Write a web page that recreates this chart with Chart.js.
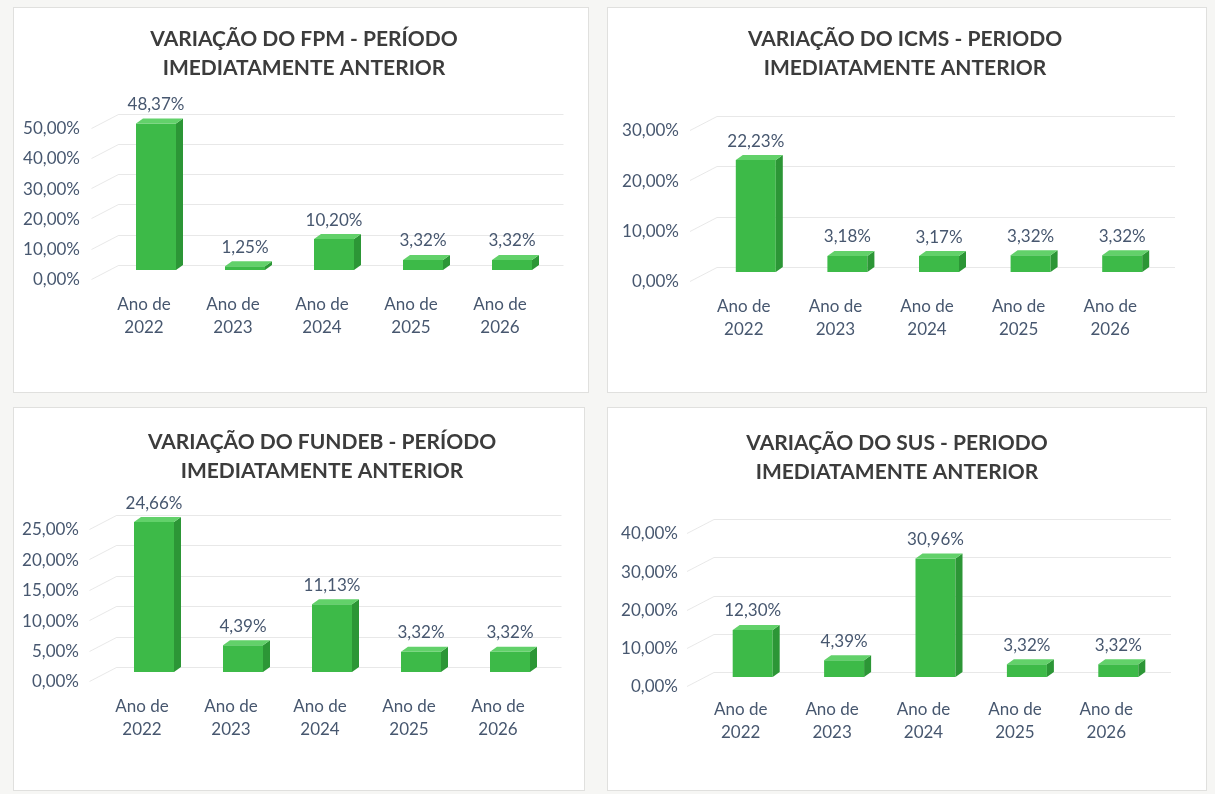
<!DOCTYPE html>
<html lang="pt-BR">
<head>
<meta charset="utf-8">
<title>Variação das receitas</title>
<script src="https://cdn.jsdelivr.net/npm/chart.js@4.4.1/dist/chart.umd.min.js"></script>
<style>
  html, body { margin: 0; padding: 0; width: 1215px; height: 794px; overflow: hidden; background: #f6f6f4; }
  .painel { position: absolute; background: #fff; border: 1px solid #e0e0de; box-sizing: border-box; }
  canvas { position: absolute; }
</style>
</head>
<body>
<div class="painel" style="left:13px;top:7px;width:576px;height:386px"></div>
<div class="painel" style="left:607px;top:7px;width:600px;height:386px"></div>
<div class="painel" style="left:13px;top:407px;width:572px;height:384px"></div>
<div class="painel" style="left:607px;top:407px;width:600px;height:384px"></div>
<canvas id="graficoFpm"></canvas>
<canvas id="graficoIcms"></canvas>
<canvas id="graficoFundeb"></canvas>
<canvas id="graficoSus"></canvas>
<script>
// Dados
const anos = [["Ano de", "2022"], ["Ano de", "2023"], ["Ano de", "2024"], ["Ano de", "2025"], ["Ano de", "2026"]];

const fpm = [48.37, 1.25, 10.20, 3.32, 3.32];
const icms = [22.23, 3.18, 3.17, 3.32, 3.32];
const fundeb = [24.66, 4.39, 11.13, 3.32, 3.32];
const sus = [12.30, 4.39, 30.96, 3.32, 3.32];

const tituloFpm = ["VARIAÇÃO DO FPM - PERÍODO", "IMEDIATAMENTE ANTERIOR"];
const tituloIcms = ["VARIAÇÃO DO ICMS - PERIODO", "IMEDIATAMENTE ANTERIOR"];
const tituloFundeb = ["VARIAÇÃO DO FUNDEB - PERÍODO", "IMEDIATAMENTE ANTERIOR"];
const tituloSus = ["VARIAÇÃO DO SUS - PERIODO", "IMEDIATAMENTE ANTERIOR"];

// eixo Y (máximo e passo) de cada gráfico: FPM, ICMS, FUNDEB, SUS
const eixoMax = [50, 30, 25, 40];
const eixoPasso = [10, 10, 5, 10];

// Estilo
const FONTE = "Lato, 'Open Sans', sans-serif";
const COR_TEXTO = "#47576f";
const COR_TITULO = "#3c3c3c";
const VERDE = "#3dba48";
const VERDE_LADO = "#2c9636";
const VERDE_TOPO = "#62d16a";
const DX = 7, DY = 5; // profundidade do efeito 3D

// Posições na página (px): painel, centro do título, área do gráfico
const posicoes = [
  { x: 13,  y: 7,   w: 576, h: 385, tituloX: 304, tituloY: 39,  esquerda: 111.5, direita: 556.5, topo: 118.5, base: 270, rotuloY: 80,  padX: 14.4 },
  { x: 607, y: 7,   w: 600, h: 385, tituloX: 905, tituloY: 39,  esquerda: 710,   direita: 1168,  topo: 121,   base: 272, rotuloY: 679, padX: 14.4 },
  { x: 13,  y: 408, w: 572, h: 382, tituloX: 322, tituloY: 442, esquerda: 109.5, direita: 554.5, topo: 520,   base: 672, rotuloY: 79,  padX: 14.4 },
  { x: 607, y: 408, w: 600, h: 382, tituloX: 897, tituloY: 443, esquerda: 707,   direita: 1164,  topo: 524,   base: 677, rotuloY: 678, padX: 12.4 }
];

function formatarPct(v) {
  return Number(v).toFixed(2).replace(".", ",") + "%";
}

// Título em duas linhas, centrado onde está no original
const tituloPlugin = {
  id: "tituloPlugin",
  afterDraw(chart, args, opts) {
    const { ctx } = chart;
    ctx.save();
    ctx.fillStyle = COR_TITULO;
    ctx.font = "bold 21px " + FONTE;
    ctx.textAlign = "center";
    ctx.textBaseline = "middle";
    opts.linhas.forEach((linha, i) => ctx.fillText(linha, opts.x, opts.y + i * 29));
    ctx.restore();
  }
};

// Barras em "3D" (lado e topo), grade na parede de fundo e rótulos de valor
const barras3d = {
  id: "barras3d",
  beforeDatasetsDraw(chart) {
    const { ctx, chartArea, scales } = chart;
    const y = scales.y;
    ctx.save();
    ctx.strokeStyle = "rgba(110,110,110,0.16)";
    ctx.lineWidth = 1;
    y.ticks.forEach(t => {
      const py = Math.round(y.getPixelForValue(t.value) - DY) + 0.5;
      ctx.beginPath();
      ctx.moveTo(chartArea.left - 20, py + DY + 9);
      ctx.lineTo(chartArea.left + DX, py);
      ctx.lineTo(chartArea.right + DX, py);
      ctx.stroke();
    });
    ctx.restore();
  },
  afterDatasetsDraw(chart) {
    const { ctx } = chart;
    const meta = chart.getDatasetMeta(0);
    const dados = chart.data.datasets[0].data;
    ctx.save();
    meta.data.forEach((barra, i) => {
      const { x, y, base, width } = barra.getProps(["x", "y", "base", "width"], true);
      const esq = x - width / 2, dir = x + width / 2;
      // lado
      ctx.fillStyle = VERDE_LADO;
      ctx.beginPath();
      ctx.moveTo(dir, y);
      ctx.lineTo(dir + DX, y - DY);
      ctx.lineTo(dir + DX, base - DY);
      ctx.lineTo(dir, base);
      ctx.closePath();
      ctx.fill();
      // topo
      ctx.fillStyle = VERDE_TOPO;
      ctx.beginPath();
      ctx.moveTo(esq, y);
      ctx.lineTo(esq + DX, y - DY);
      ctx.lineTo(dir + DX, y - DY);
      ctx.lineTo(dir, y);
      ctx.closePath();
      ctx.fill();
      // rótulo do valor
      ctx.fillStyle = COR_TEXTO;
      ctx.font = "17px " + FONTE;
      ctx.textAlign = "center";
      ctx.textBaseline = "middle";
      ctx.fillText(formatarPct(dados[i]), x, y - 19);
    });
    ctx.restore();
  }
};

function criarGrafico(id, dados, titulo, max, passo, p) {
  const canvas = document.getElementById(id);
  canvas.width = p.w;
  canvas.height = p.h;
  canvas.style.left = p.x + "px";
  canvas.style.top = p.y + "px";

  const larguraCategoria = (p.direita - p.esquerda) / dados.length;

  return new Chart(canvas, {
    type: "bar",
    data: {
      labels: anos,
      datasets: [{
        data: dados,
        backgroundColor: VERDE,
        barPercentage: 40 / larguraCategoria,
        categoryPercentage: 1
      }]
    },
    options: {
      responsive: false,
      animation: false,
      layout: { padding: { left: 0, right: p.x + p.w - p.direita, top: p.topo - p.y, bottom: 0 } },
      plugins: {
        legend: { display: false },
        tooltip: { enabled: false },
        title: { display: false },
        tituloPlugin: { linhas: titulo, x: p.tituloX - p.x, y: p.tituloY - p.y }
      },
      scales: {
        x: {
          grid: { display: false },
          border: { display: false },
          ticks: {
            color: COR_TEXTO,
            font: { family: FONTE, size: 17, lineHeight: 1.37 },
            padding: p.padX,
            labelOffset: -12,
            maxRotation: 0,
            autoSkip: false
          },
          afterFit(s) { s.height = p.y + p.h - p.base; }
        },
        y: {
          min: 0,
          max: max,
          grid: { display: false },
          border: { display: false },
          ticks: {
            stepSize: passo,
            color: COR_TEXTO,
            font: { family: FONTE, size: 17 },
            padding: p.esquerda - p.rotuloY - 8, // o Chart.js ainda soma 8px do tickLength
            labelOffset: 10,
            callback: v => formatarPct(v)
          },
          afterFit(s) { s.width = p.esquerda - p.x; }
        }
      }
    },
    plugins: [barras3d, tituloPlugin]
  });
}

criarGrafico("graficoFpm", fpm, tituloFpm, eixoMax[0], eixoPasso[0], posicoes[0]);
criarGrafico("graficoIcms", icms, tituloIcms, eixoMax[1], eixoPasso[1], posicoes[1]);
criarGrafico("graficoFundeb", fundeb, tituloFundeb, eixoMax[2], eixoPasso[2], posicoes[2]);
criarGrafico("graficoSus", sus, tituloSus, eixoMax[3], eixoPasso[3], posicoes[3]);
</script>
</body>
</html>
